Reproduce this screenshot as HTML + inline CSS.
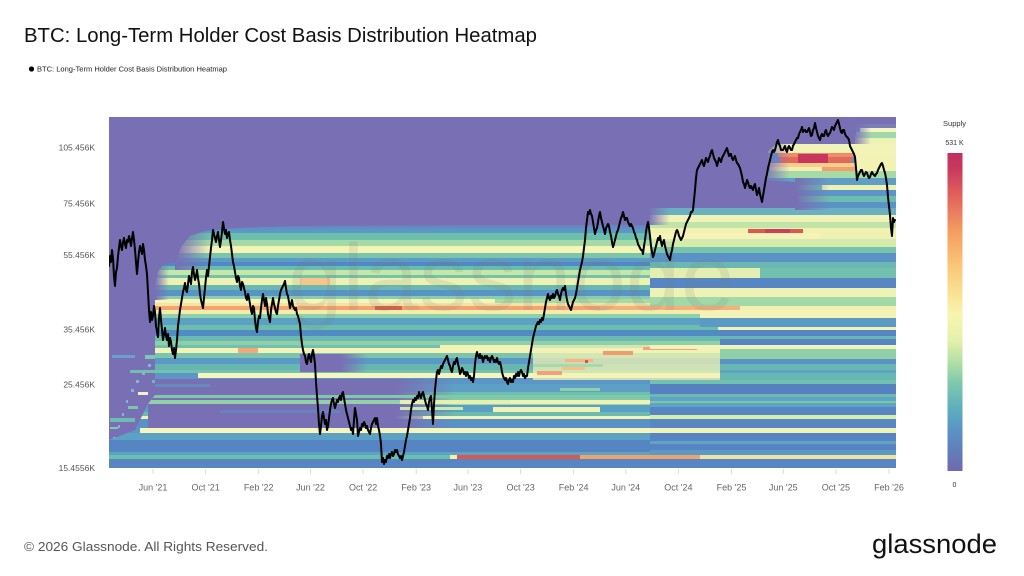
<!DOCTYPE html>
<html><head><meta charset="utf-8"><style>
html,body{margin:0;padding:0;background:#fff;width:1024px;height:576px;overflow:hidden;}
svg{display:block;font-family:"Liberation Sans",Arial,sans-serif;}
</style></head><body>
<svg width="1024" height="576" viewBox="0 0 1024 576" xmlns="http://www.w3.org/2000/svg">
<defs>
<clipPath id="plot"><rect x="109" y="117" width="787" height="351"/></clipPath>
<clipPath id="reg">
<polygon points="109,468 109,440 135,430 148,404 155,395 155,290 158,272 162,266 176,262 182,246 190,236 205,231 240,228 300,226 500,225 648,225 650,208 896,208 896,468"/>
<polygon points="766,180 768,152 776,144 855,144 857,124 896,124 896,210 800,210 797,182"/>
</clipPath>
<linearGradient id="fadeR" x1="0" y1="0" x2="1" y2="0"><stop offset="0" stop-color="#786fb4" stop-opacity="1"/><stop offset="1" stop-color="#786fb4" stop-opacity="0"/></linearGradient>
<linearGradient id="fadeD" x1="0" y1="0" x2="0" y2="1"><stop offset="0" stop-color="#786fb4" stop-opacity="1"/><stop offset="1" stop-color="#786fb4" stop-opacity="0"/></linearGradient>
<linearGradient id="cbar" x1="0" y1="0" x2="0" y2="1">
<stop offset="0" stop-color="#c0305e"/><stop offset="0.05" stop-color="#c9395c"/><stop offset="0.13" stop-color="#e0605c"/>
<stop offset="0.25" stop-color="#f59f62"/><stop offset="0.36" stop-color="#fac87a"/><stop offset="0.46" stop-color="#fae79a"/>
<stop offset="0.51" stop-color="#f8f4b0"/><stop offset="0.59" stop-color="#e4f1aa"/><stop offset="0.67" stop-color="#a9dba6"/>
<stop offset="0.72" stop-color="#7fcbab"/><stop offset="0.80" stop-color="#5fb0bd"/><stop offset="0.88" stop-color="#5a90c4"/>
<stop offset="1" stop-color="#6e6aaf"/></linearGradient>
</defs>

<text x="24" y="42" font-size="20" fill="#111" textLength="513" lengthAdjust="spacingAndGlyphs">BTC: Long-Term Holder Cost Basis Distribution Heatmap</text>
<circle cx="31.5" cy="69" r="2.6" fill="#000"/>
<text x="37" y="71.5" font-size="7" fill="#222" textLength="190" lengthAdjust="spacingAndGlyphs">BTC: Long-Term Holder Cost Basis Distribution Heatmap</text>

<g clip-path="url(#plot)">
<rect x="109" y="117" width="787" height="351" fill="#786fb4"/>
<g>
<rect x="112" y="355" width="23" height="3" fill="#6a9fd0"/>
<rect x="145" y="355" width="10" height="4" fill="#7cc8b0"/>
<rect x="130" y="370" width="30" height="3" fill="#70c0ae"/>
<rect x="152" y="380" width="13" height="3" fill="#6cbcb0"/>
<rect x="138" y="392" width="10" height="3" fill="#f2f4c8"/>
<rect x="128" y="406" width="10" height="3" fill="#79c6ab"/>
<rect x="110" y="418" width="25" height="4" fill="#6cbcb0"/>
<rect x="110" y="427" width="8" height="2" fill="#7fc9ac"/>
<rect x="113" y="437" width="3" height="3" fill="#7fb9d0"/>
<rect x="118" y="425" width="2" height="3" fill="#7fb9d0"/>
<rect x="122" y="413" width="2" height="3" fill="#7fb9d0"/>
<rect x="126" y="400" width="2" height="3" fill="#7fb9d0"/>
<rect x="131" y="389" width="3" height="3" fill="#7fb9d0"/>
<rect x="136" y="380" width="3" height="3" fill="#7fb9d0"/>
<rect x="142" y="372" width="3" height="3" fill="#7fb9d0"/>
<rect x="148" y="364" width="3" height="3" fill="#7fb9d0"/>
</g>
<g clip-path="url(#reg)">
<rect x="109" y="117" width="787" height="351" fill="#5c95c6"/>
<g>
<rect x="109" y="226" width="787" height="7" fill="#5b98c6"/>
<rect x="109" y="233" width="787" height="7" fill="#6cbfad"/>
<rect x="109" y="240" width="787" height="6" fill="#a5d9a6"/>
<rect x="109" y="246" width="787" height="7" fill="#f3f4b6"/>
<rect x="109" y="253" width="787" height="5" fill="#79c6ab"/>
<rect x="109" y="258" width="787" height="4" fill="#5c9cc7"/>
<rect x="109" y="262" width="787" height="4" fill="#5089c3"/>
<rect x="109" y="266" width="787" height="4" fill="#69bcb0"/>
<rect x="109" y="270" width="787" height="5" fill="#c5e7a8"/>
<rect x="109" y="275" width="787" height="3" fill="#76c3ac"/>
<rect x="109" y="278" width="787" height="7" fill="#edf2b2"/>
<rect x="109" y="285" width="787" height="5" fill="#6ab8b2"/>
<rect x="109" y="290" width="787" height="6" fill="#5894c6"/>
<rect x="109" y="296" width="787" height="3" fill="#8bcdab"/>
<rect x="109" y="299" width="787" height="4" fill="#f4f4bd"/>
<rect x="109" y="303" width="787" height="3" fill="#f6e49e"/>
<rect x="109" y="306" width="787" height="4" fill="#f4a372"/>
<rect x="109" y="310" width="787" height="4" fill="#f2eeaa"/>
<rect x="109" y="314" width="787" height="4" fill="#8ed0ab"/>
<rect x="109" y="318" width="787" height="7" fill="#5aa1c4"/>
<rect x="109" y="325" width="787" height="5" fill="#6dbdaf"/>
<rect x="109" y="330" width="787" height="6" fill="#508cc3"/>
<rect x="109" y="336" width="787" height="5" fill="#6bbab1"/>
<rect x="109" y="341" width="787" height="4" fill="#8fd0a9"/>
<rect x="109" y="345" width="787" height="3" fill="#74c0ae"/>
<rect x="109" y="348" width="787" height="5" fill="#f3f3b8"/>
<rect x="109" y="353" width="787" height="5" fill="#7ac5ab"/>
<rect x="109" y="358" width="787" height="6" fill="#5b99c6"/>
<rect x="109" y="364" width="787" height="6" fill="#66b6b2"/>
<rect x="109" y="370" width="787" height="3" fill="#72c2ad"/>
<rect x="198" y="373" width="698" height="5" fill="#f5f5bf"/>
<rect x="109" y="378" width="787" height="6" fill="#5b96c6"/>
<rect x="109" y="384" width="787" height="8" fill="#5d9fc5"/>
<rect x="109" y="392" width="787" height="5" fill="#6ebfae"/>
<rect x="109" y="397" width="787" height="3" fill="#7fcaaa"/>
<rect x="109" y="400" width="787" height="5" fill="#9ed6a7"/>
<rect x="109" y="405" width="787" height="7" fill="#5aa0c4"/>
<rect x="109" y="412" width="787" height="4" fill="#6bbbb0"/>
<rect x="109" y="416" width="787" height="3" fill="#eef3b4"/>
<rect x="109" y="419" width="787" height="9" fill="#5a92c6"/>
<rect x="140" y="428" width="756" height="5" fill="#f5f5bd"/>
<rect x="109" y="433" width="787" height="7" fill="#5da2c4"/>
<rect x="109" y="440" width="787" height="12" fill="#5585c2"/>
<rect x="109" y="452" width="787" height="3" fill="#5ea3c4"/>
<rect x="109" y="455" width="787" height="4" fill="#6bbfae"/>
<rect x="109" y="459" width="787" height="9" fill="#5886c3"/>
</g>
<rect x="148" y="379" width="247" height="49" fill="#786fb4"/>
<rect x="395" y="379" width="60" height="49" fill="url(#fadeR)"/>
<rect x="300" y="354" width="40" height="18" fill="#786fb4"/>
<rect x="340" y="354" width="28" height="18" fill="url(#fadeR)"/>
<rect x="150" y="395" width="746" height="3" fill="#7ec9aa"/>
<rect x="148" y="400" width="252" height="4" fill="#93d2a8"/>
<rect x="400" y="400" width="173" height="4" fill="#e8f0b0"/>
<rect x="400" y="407" width="63" height="3" fill="#cde9aa"/>
<rect x="423" y="416" width="227" height="3" fill="#f3f3b8"/>
<rect x="560" y="388" width="40" height="3" fill="#8fd0aa"/>
<rect x="150" y="384" width="60" height="3" fill="#5d9fc5" opacity="0.6"/>
<rect x="220" y="410" width="120" height="3" fill="#5d8fc5" opacity="0.6"/>
<rect x="375" y="306" width="27" height="4" fill="#d6604d"/>
<rect x="600" y="306" width="140" height="4" fill="#f6b07c"/>
<rect x="300" y="278" width="30" height="7" fill="#f7c688"/>
<rect x="238" y="348" width="20" height="5" fill="#f4a877"/>
<rect x="495" y="299" width="401" height="4" fill="#a7daa8"/>
<rect x="440" y="345" width="93" height="3" fill="#f3f3b8"/>
<rect x="533" y="345" width="187" height="35" fill="#f1f2b5" opacity="0.75"/>
<rect x="533" y="364" width="70" height="3" fill="#9ed6a7" opacity="0.8"/>
<rect x="537" y="371" width="25" height="4" fill="#f3a07a"/>
<rect x="562" y="367" width="23" height="3" fill="#f6c08a"/>
<rect x="603" y="351" width="30" height="4" fill="#f2996f"/>
<rect x="643" y="347" width="54" height="3" fill="#f4a37a"/>
<rect x="565" y="359" width="28" height="3" fill="#f6b47f"/>
<rect x="585" y="360" width="3" height="3" fill="#d9504f"/>
<rect x="510" y="400" width="140" height="4" fill="#eef3b5"/>
<rect x="493" y="407" width="107" height="5" fill="#f2f2b4"/>
<rect x="650" y="208" width="246" height="7" fill="#6ab0c0"/>
<rect x="650" y="215" width="246" height="7" fill="#eff3b8"/>
<rect x="650" y="222" width="246" height="6" fill="#c2e4a9"/>
<rect x="650" y="228" width="246" height="5" fill="#f1f1b0"/>
<rect x="748" y="229" width="55" height="5" fill="#da5a4f"/>
<rect x="765" y="229" width="25" height="5" fill="#c8415a"/>
<rect x="650" y="233" width="170" height="6" fill="#f5f3b8"/>
<rect x="820" y="233" width="76" height="6" fill="#eef1b4"/>
<rect x="650" y="239" width="246" height="8" fill="#d3ebab"/>
<rect x="650" y="247" width="246" height="6" fill="#77c4ad"/>
<rect x="650" y="253" width="246" height="9" fill="#5b93c6"/>
<rect x="650" y="262" width="246" height="6" fill="#6bb8b3"/>
<rect x="650" y="268" width="110" height="10" fill="#e3efb0"/>
<rect x="760" y="268" width="136" height="10" fill="#74c0ae"/>
<rect x="650" y="278" width="246" height="10" fill="#5687c4"/>
<rect x="650" y="288" width="246" height="9" fill="#eef2b4"/>
<rect x="650" y="297" width="246" height="9" fill="#a3d8a8"/>
<rect x="740" y="306" width="156" height="4" fill="#f2efb0"/>
<rect x="700" y="310" width="196" height="8" fill="#f3f3b8"/>
<rect x="700" y="318" width="196" height="9" fill="#5a9ac5"/>
<rect x="718" y="327" width="178" height="3" fill="#f2f2b6"/>
<rect x="720" y="330" width="176" height="15" fill="#5585c2"/>
<rect x="720" y="336" width="176" height="3" fill="#6bb6b3"/>
<rect x="650" y="345" width="246" height="4" fill="#f3f3ba"/>
<rect x="720" y="349" width="176" height="10" fill="#8fd0aa"/>
<rect x="720" y="359" width="176" height="5" fill="#5a92c6"/>
<rect x="720" y="364" width="176" height="16" fill="#67b8b2"/>
<rect x="720" y="370" width="176" height="3" fill="#5fa5c3"/>
<rect x="650" y="380" width="246" height="4" fill="#72c0ae"/>
<rect x="650" y="384" width="246" height="10" fill="#5581c1"/>
<rect x="650" y="394" width="246" height="3" fill="#6bbab1"/>
<rect x="650" y="397" width="246" height="10" fill="#5fa5c3"/>
<rect x="650" y="401" width="246" height="2" fill="#7cc6ac"/>
<rect x="650" y="407" width="246" height="8" fill="#5785c3"/>
<rect x="650" y="415" width="246" height="4" fill="#d6edab"/>
<rect x="650" y="419" width="246" height="9" fill="#5888c3"/>
<rect x="650" y="428" width="246" height="5" fill="#f1f3b6"/>
<rect x="650" y="433" width="246" height="17" fill="#5785c3"/>
<rect x="650" y="441" width="246" height="3" fill="#5fa5c3"/>
<rect x="650" y="450" width="246" height="5" fill="#5a9ac5"/>
<rect x="450" y="455" width="7" height="4" fill="#f7f0a8"/>
<rect x="457" y="455" width="123" height="4" fill="#d9584f"/>
<rect x="580" y="455" width="120" height="4" fill="#f2a26c"/>
<rect x="700" y="455" width="196" height="4" fill="#f4e0a0"/>
<rect x="855" y="124" width="41" height="4" fill="#7a7fba"/>
<rect x="860" y="128" width="36" height="4" fill="#f6f4bf"/>
<rect x="855" y="132" width="41" height="6" fill="#9fd6aa"/>
<rect x="855" y="138" width="41" height="6" fill="#eff2b5"/>
<rect x="766" y="144" width="130" height="9" fill="#f2f3b6"/>
<rect x="778" y="153" width="77" height="4" fill="#ef8c67"/>
<rect x="780" y="157" width="72" height="6" fill="#e26a5a"/>
<rect x="798" y="154" width="30" height="9" fill="#c8375b"/>
<rect x="770" y="163" width="85" height="4" fill="#f7cf8a"/>
<rect x="770" y="167" width="52" height="4" fill="#f3efb0"/>
<rect x="822" y="167" width="33" height="4" fill="#f4a06b"/>
<rect x="855" y="153" width="41" height="18" fill="#f3f2b5"/>
<rect x="766" y="171" width="130" height="7" fill="#a6daa7"/>
<rect x="766" y="178" width="130" height="7" fill="#5f9fc5"/>
<rect x="766" y="185" width="56" height="5" fill="#6fbfae"/>
<rect x="822" y="185" width="74" height="5" fill="#eff1b2"/>
<rect x="766" y="190" width="130" height="6" fill="#5b96c6"/>
<rect x="766" y="196" width="130" height="6" fill="#6cbdaf"/>
<rect x="766" y="202" width="130" height="6" fill="#5a94c6"/>
<rect x="175" y="226" width="35" height="44" fill="url(#fadeR)"/>
<rect x="155" y="266" width="14" height="34" fill="url(#fadeR)"/>
<rect x="648" y="208" width="22" height="17" fill="url(#fadeR)"/>
<rect x="762" y="142" width="28" height="40" fill="url(#fadeR)"/>
<rect x="795" y="178" width="35" height="32" fill="url(#fadeR)"/>
<rect x="853" y="122" width="18" height="22" fill="url(#fadeR)"/>
<rect x="200" y="225" width="450" height="5" fill="url(#fadeD)" opacity="0.6"/>
</g>
<text x="288" y="310" font-size="95" fill="#7a7a7a" opacity="0.14" textLength="447" lengthAdjust="spacingAndGlyphs">glassnode</text>
<polyline fill="none" stroke="#000" stroke-width="2" stroke-linejoin="round" stroke-linecap="round" points="109,266 110,256 111,262 112,250 113,258 114,276 115,286 116,272 117,268 118,256 119,248 120,240 121,246 122,250 123,242 124,238 125,244 126,248 127,240 128,242 129,236 130,240 131,246 132,238 133,232 134,240 135,250 136,262 137,274 138,262 139,252 140,246 141,250 142,254 143,244 144,250 145,260 146,266 147,274 148,292 149,310 150,322 151,312 152,320 153,316 154,306 155,312 156,326 157,332 158,337 159,318 160,308 161,320 162,330 163,340 164,334 165,328 166,336 167,340 168,334 169,346 170,338 171,342 172,350 173,354 174,348 175,358 176,350 177,340 178,326 179,318 180,310 181,304 182,298 183,292 184,288 185,283 186,290 187,292 188,284 189,276 190,280 191,284 192,272 193,267 194,274 195,280 196,276 197,270 198,278 199,284 200,294 201,300 202,304 203,308 204,298 205,288 206,278 207,270 208,276 209,266 210,257 211,248 212,240 213,230 214,234 215,238 216,242 217,236 218,232 219,240 220,247 221,240 222,232 223,222 224,228 225,234 226,230 227,238 228,234 229,232 230,240 231,246 232,254 233,262 234,266 235,272 236,278 237,282 238,276 239,278 240,286 241,290 242,282 243,284 244,288 245,292 246,298 247,300 248,294 249,298 250,304 251,310 252,314 253,306 254,308 255,320 256,328 257,332 258,322 259,316 260,318 261,308 262,300 263,294 264,300 265,306 266,298 267,304 268,314 269,318 270,322 271,310 272,304 273,298 274,304 275,308 276,312 277,314 278,306 279,300 280,294 281,290 282,288 283,286 284,284 285,281 286,288 287,294 288,296 289,302 290,308 291,304 292,300 293,306 294,308 295,310 296,308 297,314 298,316 299,320 300,324 301,336 302,344 303,350 304,354 305,356 306,362 307,364 308,358 309,354 310,358 311,362 312,354 313,350 314,356 315,364 316,382 317,396 318,408 319,424 320,434 321,426 322,416 323,412 324,418 325,424 326,420 327,430 328,426 329,418 330,410 331,404 332,400 333,398 334,404 335,408 336,404 337,400 338,402 339,398 340,396 341,400 342,394 343,392 344,398 345,404 346,410 347,414 348,418 349,422 350,426 351,430 352,428 353,434 354,420 355,408 356,414 357,420 358,436 359,432 360,428 361,430 362,424 363,426 364,422 365,424 366,428 367,426 368,430 369,432 370,434 371,428 372,424 373,422 374,420 375,418 376,424 377,418 378,426 379,430 380,436 381,444 382,462 383,458 384,464 385,460 386,462 387,456 388,458 389,454 390,458 391,454 392,452 393,456 394,454 395,450 396,452 397,450 398,454 399,456 400,458 401,456 402,460 403,456 404,452 405,446 406,440 407,436 408,430 409,424 410,418 411,410 412,404 413,400 414,402 415,398 416,400 417,396 418,398 419,392 420,396 421,398 422,394 423,392 424,396 425,400 426,404 427,406 428,410 429,402 430,398 431,396 432,410 433,424 434,404 435,390 436,380 437,372 438,370 439,374 440,370 441,366 442,368 443,364 444,362 445,360 446,358 447,356 448,360 449,364 450,366 451,370 452,372 453,366 454,362 455,364 456,360 457,358 458,364 459,368 460,374 461,372 462,368 463,370 464,374 465,372 466,376 467,372 468,374 469,378 470,376 471,380 472,378 473,382 474,376 475,364 476,356 477,352 478,356 479,358 480,354 481,358 482,356 483,362 484,358 485,356 486,358 487,356 488,360 489,358 490,362 491,358 492,356 493,358 494,362 495,360 496,362 497,358 498,362 499,364 500,362 501,366 502,372 503,376 504,378 505,380 506,378 507,382 508,384 509,380 510,378 511,382 512,380 513,382 514,376 515,378 516,374 517,376 518,372 519,376 520,372 521,370 522,372 523,376 524,374 525,378 526,376 527,376 528,368 529,362 530,356 531,350 532,344 533,338 534,334 535,330 536,326 537,324 538,322 539,324 540,320 541,322 542,318 543,320 544,314 545,308 546,302 547,298 548,294 549,298 550,300 551,296 552,298 553,294 554,298 555,296 556,292 557,290 558,294 559,296 560,300 561,294 562,290 563,288 564,290 565,286 566,294 567,300 568,304 569,306 570,308 571,310 572,306 573,302 574,300 575,298 576,294 577,288 578,282 579,276 580,270 581,266 582,262 583,256 584,248 585,240 586,228 587,220 588,212 589,214 590,210 591,214 592,216 593,222 594,228 595,234 596,230 597,228 598,222 599,216 600,212 601,218 602,222 603,226 604,230 605,234 606,228 607,226 608,224 609,226 610,232 611,236 612,242 613,247 614,244 615,240 616,236 617,232 618,230 619,226 620,222 621,218 622,216 623,212 624,216 625,220 626,218 627,218 628,222 629,224 630,226 631,224 632,226 633,228 634,232 635,234 636,238 637,240 638,244 639,246 640,248 641,250 642,250 643,254 644,246 645,240 646,232 647,226 648,222 649,228 650,236 651,246 652,252 653,257 654,254 655,250 656,246 657,242 658,238 659,240 660,236 661,242 662,246 663,242 664,240 665,246 666,250 667,254 668,256 669,258 670,260 671,254 672,250 673,244 674,240 675,236 676,232 677,230 678,232 679,236 680,238 681,240 682,238 683,236 684,232 685,228 686,224 687,222 688,220 689,218 690,216 691,212 692,212 693,210 694,200 695,190 696,178 697,170 698,168 699,166 700,164 701,162 702,160 703,164 704,166 705,162 706,158 707,160 708,162 709,158 710,156 711,152 712,150 713,154 714,158 715,160 716,162 717,166 718,162 719,158 720,160 721,162 722,158 723,156 724,154 725,152 726,150 727,148 728,152 729,156 730,154 731,154 732,158 733,160 734,158 735,156 736,160 737,163 738,164 739,166 740,168 741,172 742,176 743,182 744,184 745,188 746,184 747,180 748,182 749,186 750,188 751,186 752,188 753,190 754,186 755,184 756,190 757,195 758,192 759,188 760,194 761,198 762,202 763,196 764,190 765,184 766,178 767,174 768,168 769,164 770,160 771,156 772,152 773,150 774,152 775,150 776,146 777,142 778,140 779,144 780,146 781,150 782,150 783,150 784,148 785,146 786,150 787,152 788,148 789,146 790,148 791,150 792,150 793,146 794,144 795,142 796,140 797,138 798,138 799,134 800,132 801,130 802,127 803,132 804,130 805,130 806,132 807,132 808,130 809,128 810,132 811,136 812,135 813,130 814,128 815,123 816,128 817,132 818,136 819,138 820,140 821,136 822,134 823,136 824,136 825,132 826,130 827,134 828,136 829,134 830,133 831,130 832,127 833,128 834,130 835,126 836,124 837,122 838,120 839,124 840,128 841,132 842,133 843,130 844,130 845,134 846,136 847,137 848,138 849,140 850,146 851,148 852,150 853,152 854,154 855,157 856,168 857,180 858,176 859,174 860,172 861,170 862,170 863,174 864,176 865,174 866,172 867,173 868,176 869,178 870,177 871,174 872,172 873,174 874,175 875,176 876,174 877,173 878,170 879,168 880,166 881,164 882,163 883,166 884,170 885,173 886,178 887,185 888,197 889,206 890,215 891,228 892,236 893,218 894,222 895,220"/>
</g>

<g font-size="8.5" fill="#555" text-anchor="end">
<text x="95" y="150.7">105.456K</text>
<text x="95" y="206.5">75.456K</text>
<text x="95" y="258">55.456K</text>
<text x="95" y="332.5">35.456K</text>
<text x="95" y="387.7">25.456K</text>
<text x="95" y="471">15.4556K</text>
</g>

<g stroke="#dcdcdc" stroke-width="1">
<line x1="153" y1="469" x2="153" y2="474"/><line x1="205.6" y1="469" x2="205.6" y2="474"/><line x1="258.7" y1="469" x2="258.7" y2="474"/>
<line x1="310.5" y1="469" x2="310.5" y2="474"/><line x1="363.1" y1="469" x2="363.1" y2="474"/><line x1="416.2" y1="469" x2="416.2" y2="474"/>
<line x1="467.9" y1="469" x2="467.9" y2="474"/><line x1="520.6" y1="469" x2="520.6" y2="474"/><line x1="573.6" y1="469" x2="573.6" y2="474"/>
<line x1="625.8" y1="469" x2="625.8" y2="474"/><line x1="678.4" y1="469" x2="678.4" y2="474"/><line x1="731.5" y1="469" x2="731.5" y2="474"/>
<line x1="783.3" y1="469" x2="783.3" y2="474"/><line x1="835.9" y1="469" x2="835.9" y2="474"/><line x1="889" y1="469" x2="889" y2="474"/>
</g>
<g font-size="9" fill="#666" text-anchor="middle">
<text x="153" y="490.5">Jun '21</text>
<text x="205.6" y="490.5">Oct '21</text>
<text x="258.7" y="490.5">Feb '22</text>
<text x="310.5" y="490.5">Jun '22</text>
<text x="363.1" y="490.5">Oct '22</text>
<text x="416.2" y="490.5">Feb '23</text>
<text x="467.9" y="490.5">Jun '23</text>
<text x="520.6" y="490.5">Oct '23</text>
<text x="573.6" y="490.5">Feb '24</text>
<text x="625.8" y="490.5">Jun '24</text>
<text x="678.4" y="490.5">Oct '24</text>
<text x="731.5" y="490.5">Feb '25</text>
<text x="783.3" y="490.5">Jun '25</text>
<text x="835.9" y="490.5">Oct '25</text>
<text x="889" y="490.5">Feb '26</text>
</g>

<text x="954.5" y="126" font-size="7.5" fill="#333" text-anchor="middle">Supply</text>
<text x="954.5" y="145" font-size="7" fill="#333" text-anchor="middle">531 K</text>
<rect x="947.5" y="153" width="15" height="318" fill="url(#cbar)"/>
<text x="954.5" y="487" font-size="7" fill="#333" text-anchor="middle">0</text>

<text x="24" y="551" font-size="13" fill="#555" textLength="244" lengthAdjust="spacingAndGlyphs">© 2026 Glassnode. All Rights Reserved.</text>
<text x="872" y="553" font-size="27" fill="#111" textLength="125" lengthAdjust="spacingAndGlyphs">glassnode</text>
</svg>
</body></html>
